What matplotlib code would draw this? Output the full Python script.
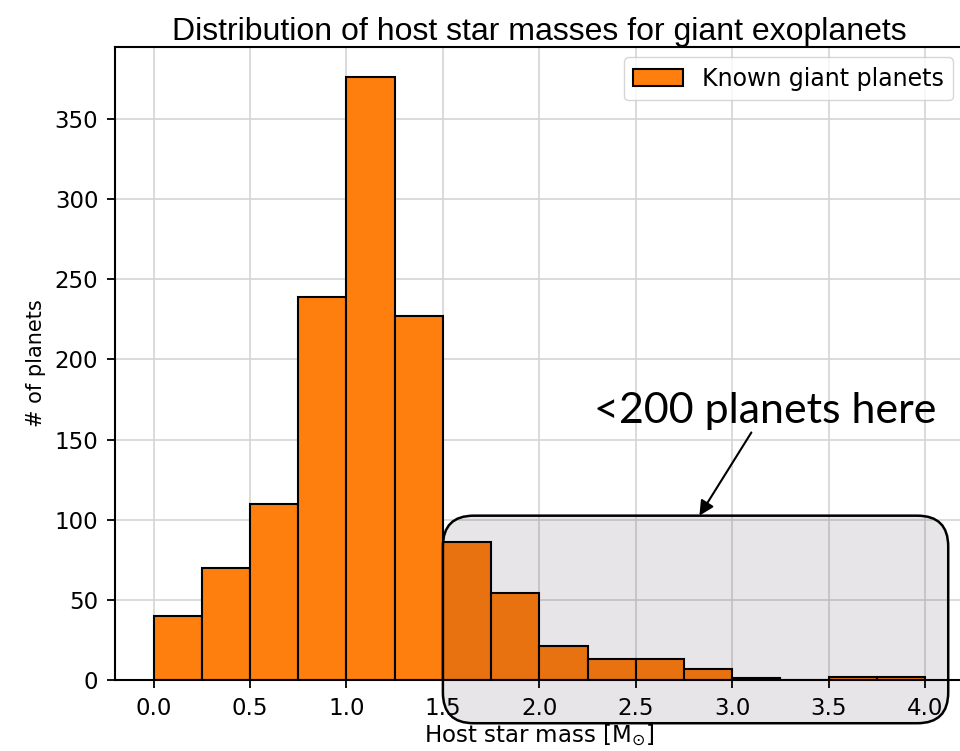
import numpy as np
import matplotlib
matplotlib.use("Agg")
import matplotlib.pyplot as plt
from matplotlib.patches import FancyBboxPatch

# host star mass bins (solar masses) and planet counts per bin
bin_edges = [0.0, 0.25, 0.5, 0.75, 1.0, 1.25, 1.5, 1.75, 2.0,
             2.25, 2.5, 2.75, 3.0, 3.25, 3.5, 3.75, 4.0]
counts = [40, 70, 110, 239, 376, 227, 86, 54, 21, 13, 13, 7, 1, 0, 2, 2]
x_ticks = [0.0, 0.5, 1.0, 1.5, 2.0, 2.5, 3.0, 3.5, 4.0]
y_ticks = [0, 50, 100, 150, 200, 250, 300, 350]

edges = np.array(bin_edges)
fig = plt.figure(figsize=(9.6, 7.51), dpi=100)
ax = fig.add_axes([0.1198, 0.0946, 0.884, 0.843])

ax.bar(edges[:-1], counts, width=np.diff(edges), align='edge',
       color='#ff7f0e', edgecolor='black', linewidth=1.5,
       label='Known giant planets', zorder=2)

ax.set_xlim(-0.2, 4.2)
ax.set_ylim(0, 395)
ax.set_xticks(x_ticks)
ax.set_yticks(y_ticks)
ax.grid(True, color='#d4d4d4', linewidth=1.2, zorder=0)
ax.set_axisbelow(True)
ax.tick_params(labelsize=16.5, length=6, width=1.3, pad=6)
for s in ax.spines.values():
    s.set_linewidth(1.5)

ax.set_xlabel(r'Host star mass [M$_{\odot}$]', fontsize=16.5, labelpad=2)
ax.set_ylabel('# of planets', fontsize=15, labelpad=6)
ax.set_title('Distribution of host star masses for giant exoplanets',
             family='Liberation Sans', fontsize=23, pad=5)
ax.legend(loc='upper right', fontsize=17, handlelength=2.1,
          borderaxespad=0.45)

# shaded rounded box over the high-mass tail
box = FancyBboxPatch((1.5, -27), 2.62, 129.5,
                     boxstyle='round,pad=0,rounding_size=0.16',
                     mutation_aspect=120, facecolor='#200820', alpha=0.1,
                     edgecolor='none', clip_on=False, zorder=3)
ax.add_patch(box)
edge = FancyBboxPatch((1.5, -27), 2.62, 129.5,
                      boxstyle='round,pad=0,rounding_size=0.16',
                      mutation_aspect=120, facecolor='none',
                      edgecolor='black', linewidth=1.8,
                      clip_on=False, zorder=4)
ax.add_patch(edge)

ax.annotate('<200 planets here', xy=(2.83, 102.5), xytext=(3.17, 168),
            ha='center', va='center', fontsize=31, family='Lato',
            arrowprops=dict(arrowstyle='-|>', color='black', lw=1.5,
                            mutation_scale=22, shrinkA=0, shrinkB=0),
            zorder=5)

fig.savefig('out.png', dpi=100)
